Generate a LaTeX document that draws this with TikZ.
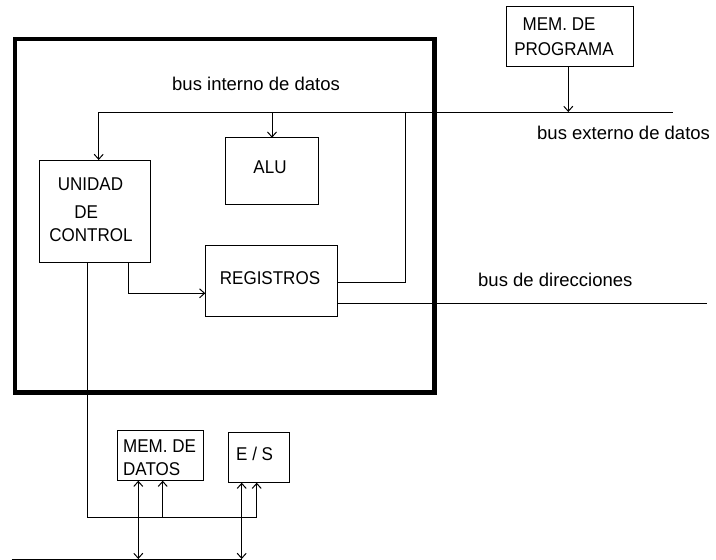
\documentclass[tikz,border=0pt]{standalone}
\usepackage{fontspec}
\setmainfont{Liberation Sans}
\newfontfamily\capsfont[FakeStretch=0.92]{Liberation Sans}
\usetikzlibrary{arrows.meta}
\begin{document}
\begin{tikzpicture}[x=1pt,y=-1pt,
  thin line/.style={line width=1pt},
  blk/.style={draw, line width=1pt, inner sep=0pt, outer sep=0pt, anchor=north west},
  cpubox/.style={draw, line width=4.5pt, inner sep=0pt, outer sep=0pt, anchor=north west},
  buslbl/.style={inner sep=0pt, anchor=base west, font=\fontsize{18.5}{22}\selectfont},
  caplbl/.style={inner sep=0pt, anchor=base, font=\capsfont\fontsize{18.5}{22}\selectfont},
  capwest/.style={inner sep=0pt, anchor=base west, font=\capsfont\fontsize{18.5}{22}\selectfont},
  arr/.style={line width=1pt, -{Straight Barb[length=5pt,width=9pt]}},
  darr/.style={line width=1pt, {Straight Barb[length=5pt,width=9pt]}-{Straight Barb[length=5pt,width=9pt]}}
]
\useasboundingbox (0,0) rectangle (716,560);
\fill[white] (0,0) rectangle (716,560);

% processor box
\node[cpubox, minimum width=419.5pt, minimum height=353.5pt] (cpu) at (15,39) {};

% blocks
\node[blk, minimum width=127pt, minimum height=60pt] (memprog) at (506,6) {};
\node[blk, minimum width=111.4pt, minimum height=102.7pt] (uc) at (39.3,160) {};
\node[blk, minimum width=92.6pt, minimum height=66.6pt] (alu) at (225.7,137.7) {};
\node[blk, minimum width=132pt, minimum height=70.3pt] (reg) at (205.3,245.7) {};
\node[blk, minimum width=86pt, minimum height=50pt] (memdat) at (117.7,430.7) {};
\node[blk, minimum width=60.6pt, minimum height=50.7pt] (es) at (228.7,432) {};

% block texts
\node[caplbl] (t1) at (559,30) {MEM. DE};
\node[caplbl] (t2) at (564,55) {PROGRAMA};
\node[caplbl] (t3) at (90.5,190) {UNIDAD};
\node[caplbl] (t4) at (86.2,218.3) {DE};
\node[caplbl] (t5) at (91,241.7) {CONTROL};
\node[caplbl] (t6) at (270,173.3) {ALU};
\node[caplbl] (t7) at (270,284) {REGISTROS};
\node[capwest] (t8) at (123,452) {MEM. DE};
\node[capwest] (t9) at (123,475) {DATOS};
\node[capwest] (t10) at (236,460) {E / S};

% bus labels
\node[buslbl] (bint) at (172,90.7) {bus interno de datos};
\node[buslbl] (bext) at (537,139.5) {bus externo de datos};
\node[buslbl] (bdir) at (478,286.5) {bus de direcciones};

% internal / external data bus
\coordinate (busL) at (98.7,112);
\coordinate (busR) at (673,112);
\coordinate (busP) at (568.3,112);
\coordinate (busA) at (272,112);
\coordinate (busG) at (405.7,112);
\draw[thin line] (busL) -- (busR);
\draw[arr] (memprog.south -| busP) -- (busP);
\draw[arr] (busL) -- (busL |- uc.north);
\draw[arr] (busA) -- (alu.north);
\draw[thin line] (reg.east |- 0,282.7) -| (busG);

% address bus
\coordinate (dirR) at (707,303.3);
\draw[thin line] (reg.east |- dirR) -- (dirR);

% control unit to registers
\coordinate (ucr) at (128,293.3);
\draw[arr] (uc.south -| ucr) |- (reg.west |- ucr);

% control lines to memory and I/O
\coordinate (ctlL) at (87.7,517.7);
\coordinate (ctlM) at (162.7,517.7);
\coordinate (ctlE) at (256.7,517.7);
\draw[thin line] (uc.south -| ctlL) -- (ctlL) -- (ctlE);
\draw[arr] (ctlM) -- (memdat.south -| ctlM);
\draw[arr] (ctlE) -- (es.south -| ctlE);

% lower data bus
\coordinate (dbL) at (11.7,559);
\coordinate (dbM) at (138.3,559);
\coordinate (dbE) at (241.7,559);
\draw[thin line] (dbL) -- (dbE);
\draw[darr] (dbM) -- (memdat.south -| dbM);
\draw[darr] (dbE) -- (es.south -| dbE);
\end{tikzpicture}
\end{document}
